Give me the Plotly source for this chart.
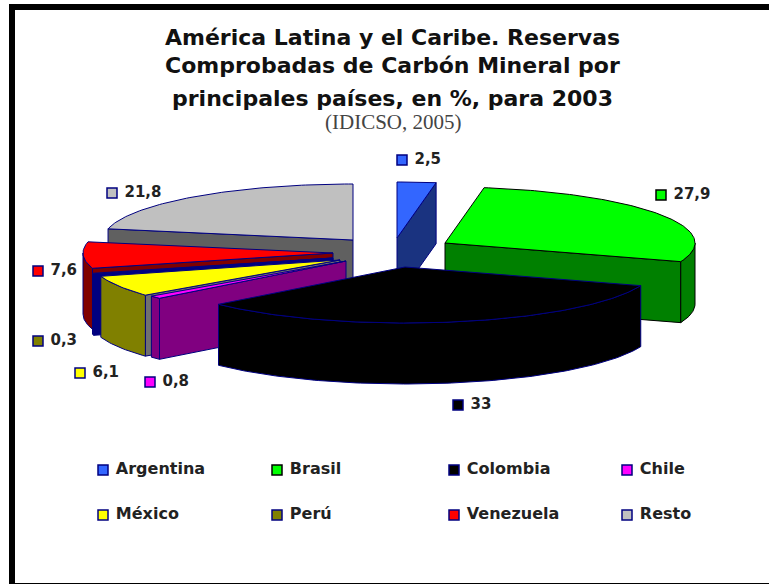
import math
import plotly.graph_objects as go

categories = ["Argentina", "Brasil", "Colombia", "Chile", "México", "Perú", "Venezuela", "Resto"]
values = [2.5, 27.9, 33, 0.8, 6.1, 0.3, 7.6, 21.8]

top_colors = ["#3366ff", "#00ff00", "#000000", "#ff00ff", "#ffff00", "#808000", "#ff0000", "#c0c0c0"]
rim_colors = ["#1a3380", "#008000", "#000000", "#800080", "#808000", "#000080", "#800000", "#606060"]
face_colors = ["#1a3380", "#008000", "#000000", "#800080", "#707070", "#000080", "#800000", "#606060"]
edge_colors = ["#000080", "#000000", "#000080", "#000080", "#000080", "#000080", "#000080", "#000080"]

# Layout of the projected pie (pixel-aligned axes)
RX, RY, WALL = 250, 56, 61
apex = {"Argentina": (397, 238), "Brasil": (445, 243), "Colombia": (405, 267), "Chile": (346, 261),
        "México": (340, 260), "Perú": (333, 258), "Venezuela": (333, 253), "Resto": (353, 240)}
draw_order = ["Resto", "Argentina", "Brasil", "Venezuela", "Perú", "México", "Chile", "Colombia"]

label_pos = {"Argentina": (402, 160), "Brasil": (661, 195), "Colombia": (458, 405), "Chile": (150, 382),
             "México": (80, 373), "Perú": (38, 341), "Venezuela": (38, 271), "Resto": (112, 193)}
legend_pos = {"Argentina": (103, 470), "Brasil": (277, 470), "Colombia": (454, 470), "Chile": (627, 470),
              "México": (103, 515), "Perú": (277, 515), "Venezuela": (454, 515), "Resto": (627, 515)}

FONT = "DejaVu Sans"
fig = go.Figure()


def rim(c, deg):
    t = math.radians(deg)
    return c[0] + RX * math.sin(t), c[1] - RY * math.cos(t)


def poly(xs, ys, fill, edge, width=1):
    fig.add_trace(go.Scatter(x=xs, y=ys, mode="lines", fill="toself", fillcolor=fill,
                             line=dict(color=edge, width=width), hoverinfo="skip", showlegend=False))


def arc(c, a, b):
    n = max(2, int(abs(b - a)) + 2)
    return [rim(c, a + (b - a) * i / (n - 1)) for i in range(n)]


angles, acc = {}, 0.0
for name, v in zip(categories, values):
    angles[name] = (acc * 3.6, (acc + v) * 3.6)
    acc += v

for name in draw_order:
    i = categories.index(name)
    a, b = angles[name]
    c = apex[name]
    edge = edge_colors[i]
    # cut faces
    for ang, visible in ((a, 180 < a < 360), (b, 0 < b < 180)):
        if visible:
            p = rim(c, ang)
            poly([c[0], p[0], p[0], c[0], c[0]], [c[1], p[1], p[1] + WALL, c[1] + WALL, c[1]],
                 face_colors[i], edge)
    # outer wall
    lo, hi = max(a, 90), min(b, 270)
    if hi > lo:
        pts = arc(c, lo, hi)
        xs = [q[0] for q in pts] + [q[0] for q in reversed(pts)]
        ys = [q[1] for q in pts] + [q[1] + WALL for q in reversed(pts)]
        poly(xs + xs[:1], ys + ys[:1], rim_colors[i], edge)
    # top
    pts = arc(c, a, b)
    poly([c[0]] + [q[0] for q in pts] + [c[0]], [c[1]] + [q[1] for q in pts] + [c[1]], top_colors[i], edge)

GAP = "\u00a0"
# value labels
for name, v in zip(categories, values):
    i = categories.index(name)
    x, y = label_pos[name]
    txt = (f"{v:g}").replace(".", ",")
    fig.add_trace(go.Scatter(x=[x], y=[y], mode="markers+text", text=[f"<b>{GAP}{txt}</b>"], textposition="middle right",
                             textfont=dict(family=FONT, size=15, color="#222222"),
                             marker=dict(symbol="square", size=10, color=top_colors[i],
                                         line=dict(color=edge_colors[i], width=1.5)),
                             hoverinfo="skip", showlegend=False))

# legend
for i, name in enumerate(categories):
    x, y = legend_pos[name]
    fig.add_trace(go.Scatter(x=[x], y=[y], mode="markers+text", text=[f"<b>{GAP}{name}</b>"], textposition="middle right",
                             textfont=dict(family=FONT, size=16, color="#222222"),
                             marker=dict(symbol="square", size=10, color=top_colors[i],
                                         line=dict(color=edge_colors[i], width=1.5)),
                             hoverinfo="skip", showlegend=False))

title_lines = ["América Latina y el Caribe. Reservas", "Comprobadas de Carbón Mineral por",
               "principales países, en %, para 2003"]
for line, y in zip(title_lines, [37, 65, 98]):
    fig.add_annotation(x=392, y=y, text=f"<b>{line}</b>", showarrow=False, xref="x", yref="y",
                       font=dict(family=FONT, size=22, color="#111111"))
fig.add_annotation(x=393, y=122, text="(IDICSO, 2005)", showarrow=False, xref="x", yref="y",
                   font=dict(family="Liberation Serif", size=21, color="#444444"))

# page frame
frame = [(9, 4, 769, 10), (9, 4, 15, 584), (9, 583, 769, 584)]
shapes = [dict(type="rect", xref="x", yref="y", x0=a, y0=b, x1=c, y1=d, fillcolor="black",
               line=dict(width=0), layer="above") for a, b, c, d in frame]

fig.update_layout(width=769, height=584, margin=dict(l=0, r=0, t=0, b=0),
                  paper_bgcolor="white", plot_bgcolor="white", shapes=shapes,
                  xaxis=dict(range=[0, 769], visible=False, fixedrange=True),
                  yaxis=dict(range=[584, 0], visible=False, fixedrange=True))
fig.write_html("out.html", config={"displayModeBar": False},
               post_script="document.body.style.margin='0';")
